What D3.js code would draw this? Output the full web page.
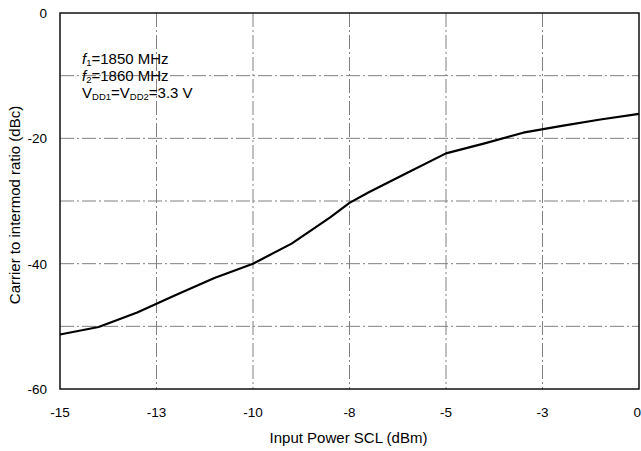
<!DOCTYPE html>
<html lang="en">
<head>
    <meta charset="UTF-8">
    <title>Carrier to intermod ratio</title>
    <script src="https://d3js.org/d3.v7.min.js"></script>
    <style>
        body {
            margin: 0;
            background: #fff;
            font-family: "Liberation Sans", Arial, sans-serif;
        }

        .grid line {
            stroke: #808080;
            stroke-width: 1;
            stroke-dasharray: 14, 3, 2, 3;
        }

        .tick-label {
            font-size: 13.5px;
            fill: #000;
        }

        .axis-title {
            font-size: 15px;
            fill: #000;
        }

        .note {
            font-size: 15px;
            fill: #000;
        }
    </style>
</head>
<body>
    <div id="chart"></div>

    <script>
        // Input power (dBm) and carrier/intermod ratio (dBc)
        const inputPower = [-15, -14, -13, -12, -11, -10, -9, -8, -7.5, -7, -6, -5, -4, -3, -2, -1, 0];
        const cimRatio = [-51.3, -50.1, -47.8, -45.0, -42.3, -40.0, -36.8, -32.6, -30.3, -28.6, -25.5, -22.4, -20.8, -19.1, -18.0, -17.0, -16.1];

        const xTicks = [-15, -12.5, -10, -7.5, -5, -2.5, 0];
        const xTickLabels = ["-15", "-13", "-10", "-8", "-5", "-3", "0"];
        const yGrid = [-10, -20, -30, -40, -50];
        const yTickLabels = [0, -20, -40, -60];

        const width = 641;
        const height = 451;
        const margin = { top: 13, right: 2, bottom: 62, left: 60 };
        const chartWidth = width - margin.left - margin.right;
        const chartHeight = height - margin.top - margin.bottom;

        const svg = d3.select("#chart").append("svg")
            .attr("width", width)
            .attr("height", height);

        const g = svg.append("g")
            .attr("transform", `translate(${margin.left}, ${margin.top})`);

        const x = d3.scaleLinear().domain([-15, 0]).range([0, chartWidth]);
        const y = d3.scaleLinear().domain([-60, 0]).range([chartHeight, 0]);

        // dash-dot grid
        const grid = g.append("g").attr("class", "grid");
        grid.selectAll(".vline")
            .data(xTicks.slice(1, -1))
            .enter().append("line")
            .attr("x1", d => x(d)).attr("x2", d => x(d))
            .attr("y1", 0).attr("y2", chartHeight);
        grid.selectAll(".hline")
            .data(yGrid)
            .enter().append("line")
            .attr("x1", 0).attr("x2", chartWidth)
            .attr("y1", d => y(d)).attr("y2", d => y(d));

        // frame
        g.append("rect")
            .attr("width", chartWidth)
            .attr("height", chartHeight)
            .attr("fill", "none")
            .attr("stroke", "#111")
            .attr("stroke-width", 1.5);

        // tick labels (last one pinned to the right edge)
        const lastX = xTicks.length - 1;
        g.selectAll(".xlab")
            .data(xTicks)
            .enter().append("text")
            .attr("class", "tick-label")
            .attr("x", (d, i) => i === lastX ? x(d) + 2 : x(d))
            .attr("y", chartHeight + 28)
            .attr("text-anchor", (d, i) => i === lastX ? "end" : "middle")
            .text((d, i) => xTickLabels[i]);

        g.selectAll(".ylab")
            .data(yTickLabels)
            .enter().append("text")
            .attr("class", "tick-label")
            .attr("x", -13)
            .attr("y", d => y(d) + 5)
            .attr("text-anchor", "end")
            .text(d => d);

        // axis titles
        svg.append("text")
            .attr("class", "axis-title")
            .attr("x", margin.left + chartWidth / 2 - 1)
            .attr("y", 443)
            .attr("text-anchor", "middle")
            .text("Input Power SCL (dBm)");

        svg.append("text")
            .attr("class", "axis-title")
            .attr("transform", `translate(20, ${margin.top + chartHeight / 2 + 4}) rotate(-90)`)
            .attr("text-anchor", "middle")
            .text("Carrier to intermod ratio (dBc)");

        // curve
        const line = d3.line()
            .x((d, i) => x(inputPower[i]))
            .y(d => y(d));

        g.append("path")
            .datum(cimRatio)
            .attr("fill", "none")
            .attr("stroke", "#000")
            .attr("stroke-width", 2.2)
            .attr("stroke-linejoin", "round")
            .attr("d", line);

        // conditions note
        const note = svg.append("g").attr("class", "note");
        const addF = (yPos, sub, val) => {
            const t = note.append("text").attr("x", 82).attr("y", yPos);
            t.append("tspan").attr("font-style", "italic").text("f");
            t.append("tspan").attr("font-size", "9.5px").attr("dy", 2).text(sub);
            t.append("tspan").attr("dy", -2).text("=" + val);
        };
        addF(64, "1", "1850 MHz");
        addF(81, "2", "1860 MHz");

        const v = note.append("text").attr("x", 82).attr("y", 98);
        v.append("tspan").text("V");
        v.append("tspan").attr("font-size", "9.5px").attr("dy", 2).text("DD1");
        v.append("tspan").attr("dy", -2).text("=V");
        v.append("tspan").attr("font-size", "9.5px").attr("dy", 2).text("DD2");
        v.append("tspan").attr("dy", -2).text("=3.3 V");
    </script>
</body>
</html>
